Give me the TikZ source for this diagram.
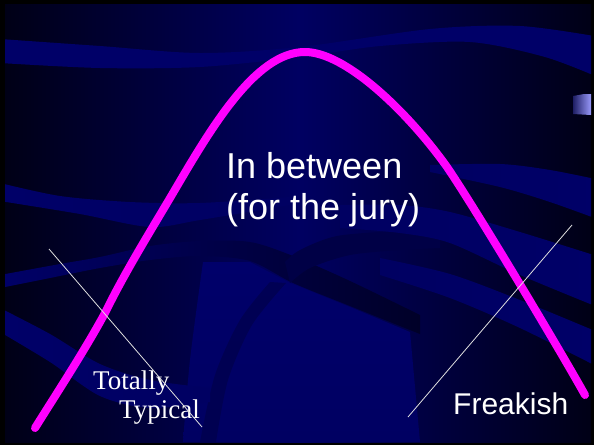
\documentclass[tikz,border=0pt]{standalone}
\usepackage{fontspec}
\setmainfont{Liberation Serif}
\setsansfont{Liberation Sans}
\usepackage{xcolor}
\usepackage{tikz}
\usetikzlibrary{positioning}
\definecolor{slideedge}{RGB}{0,0,22}
\definecolor{slidemid}{RGB}{0,0,98}
\definecolor{bandlight}{RGB}{0,0,104}
\definecolor{banddark}{RGB}{0,0,40}
\definecolor{bandshadow}{RGB}{0,0,70}
\definecolor{regionlight}{RGB}{0,0,106}
\definecolor{bellpink}{RGB}{255,0,255}
\definecolor{tablight}{RGB}{152,152,250}
\definecolor{tabdark}{RGB}{30,30,100}

\begin{document}
\begin{tikzpicture}[x=1pt, y=-1pt,
bell/.style={draw=bellpink, line width=8pt, line cap=round, line join=round},
pointer/.style={draw=white!88!black, line width=0.8pt},
sanslabel/.style={text=white, inner sep=0pt, anchor=base west, font=\sffamily\fontsize{#1}{#1}\selectfont},
seriflabel/.style={text=white, inner sep=0pt, anchor=base west, font=\rmfamily\fontsize{#1}{#1}\selectfont}
]
% frame and backdrop
\fill[black] (0,0) rectangle (594,445);
\useasboundingbox (0,0) rectangle (594,445);
\shade[left color=slideedge, right color=slideedge, middle color=slidemid] (5,4) rectangle (591,442);

\begin{scope}
\clip (5,4) rectangle (591,442);
% wavy bands
\shade[left color=bandlight, middle color=banddark, right color=bandlight]
  plot[smooth] coordinates {(0,39) (100,46) (200,53) (300,47) (430,29) (520,26) (600,37)}
  -- plot[smooth] coordinates {(600,78) (545,57) (470,42) (380,46) (300,57) (200,67) (100,68) (0,63)} -- cycle;
\shade[left color=bandlight, right color=slidemid]
  plot[smooth] coordinates {(0,183) (60,196) (130,202) (200,203) (290,197)}
  -- plot[smooth] coordinates {(290,205) (200,220) (150,227) (80,214) (0,201)} -- cycle;
\shade[top color=regionlight, bottom color=slidemid]
  plot[smooth] coordinates {(183,442) (190,360) (203,262)}
  -- (250,262) -- (290,283) -- (350,307) -- (410,332) -- (420,442) -- cycle;
\shade[left color=bandlight, right color=banddark]
  plot[smooth] coordinates {(0,275) (60,264) (100,257) (150,246) (200,241) (250,242) (293,256) (350,281) (420,315)}
  -- plot[smooth] coordinates {(420,334) (350,306) (293,283) (250,261) (200,256) (150,260) (100,268) (50,278) (0,288)} -- cycle;
\fill[bandshadow]
  plot[smooth] coordinates {(285,262) (300,250) (337,236) (400,231) (440,232)}
  -- plot[smooth] coordinates {(440,248) (400,250) (350,255) (310,268) (290,283)} -- cycle;
\fill[bandshadow, opacity=0.6]
  plot[smooth] coordinates {(270,282) (240,320) (215,375) (200,442)}
  -- plot[smooth] coordinates {(216,442) (228,380) (252,325) (286,283)} -- cycle;
\shade[left color=bandlight, right color=slidemid]
  plot[smooth] coordinates {(0,308) (50,334) (100,364) (150,380) (210,388)}
  -- plot[smooth] coordinates {(210,402) (150,408) (100,396) (50,362) (0,332)} -- cycle;
\shade[left color=slidemid, right color=bandlight]
  plot[smooth] coordinates {(430,165) (500,164) (550,170) (600,180)}
  -- plot[smooth] coordinates {(600,220) (550,202) (500,187) (430,172)} -- cycle;
\shade[left color=slidemid, right color=bandlight]
  plot[smooth] coordinates {(340,205) (400,205) (450,212) (520,232) (600,257)}
  -- plot[smooth] coordinates {(600,308) (520,275) (450,243) (400,233) (340,228)} -- cycle;
\shade[left color=slidemid, right color=bandlight]
  plot[smooth] coordinates {(380,258) (450,274) (520,300) (600,333)}
  -- plot[smooth] coordinates {(600,368) (520,328) (450,298) (380,275)} -- cycle;
% small tab on the right edge
\shade[left color=tabdark, right color=tablight] (573,96) -- (584,94) -- (591,94) -- (591,115) -- (573,114) -- cycle;
\end{scope}

% the bell curve
\draw[bell] (35,428) .. controls (55,396) and (85,350) .. (105,313)
  .. controls (125,272) and (150,232) .. (173,193)
  .. controls (210,130) and (255,52) .. (305,52)
  .. controls (345,52) and (407,111) .. (447,167)
  .. controls (475,208) and (560,350) .. (585,395);

% labels
\node[sanslabel=36] (inbetween) at (226,178) {In between};
\node[sanslabel=36] (jury) at ([yshift=-41pt]inbetween.base west) {(for the jury)};
\node[sanslabel=30] (freakish) at (453,414) {Freakish};
\node[seriflabel=27] (totally) at (93,389) {Totally};
\node[seriflabel=27] (typical) at (119,418) {Typical};

% pointer strokes
\coordinate (typicaltop) at (49,249);
\coordinate (typicalfoot) at (202,427);
\coordinate (freaktop) at (572,225);
\coordinate (freakfoot) at (408,417);
\draw[pointer] (typicaltop) -- (typicalfoot);
\draw[pointer] (freaktop) -- (freakfoot);
\end{tikzpicture}
\end{document}
